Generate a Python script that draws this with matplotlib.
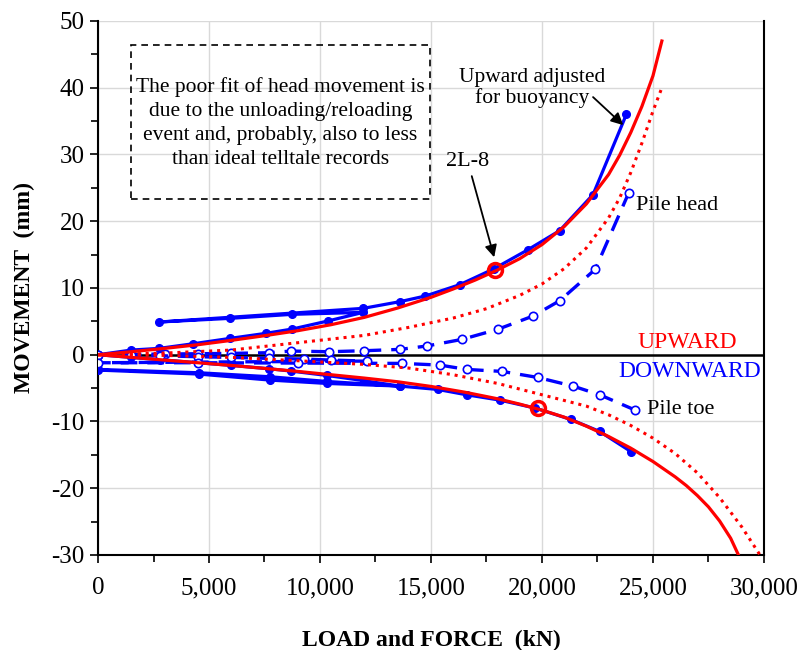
import numpy as np
import matplotlib.pyplot as plt
from matplotlib.ticker import FuncFormatter, MultipleLocator
from matplotlib.patches import Rectangle

plt.rcParams['font.family'] = ['Liberation Serif', 'DejaVu Serif']
plt.rcParams['axes.unicode_minus'] = False

# measured, pile head adjusted for buoyancy (load kN, movement mm) - includes unload/reload loop
head_adj_load = [0, 1500, 2750, 4300, 5950, 7550, 8750, 10350, 11950,
                 8750, 5950, 2750,
                 11950, 13600, 14750, 16300, 17850, 19350, 20800, 22300, 23800]
head_adj_mov = [0, 0.7, 0.95, 1.65, 2.45, 3.2, 3.85, 5.05, 6.35,
                6.05, 5.45, 4.9,
                6.95, 7.95, 8.8, 10.5, 12.9, 15.7, 18.6, 24.0, 36.0]

# measured downward (toe force) with unload/reload loop
down_load = [0, 1500, 2800, 4500, 6000, 7700, 8700, 10300, 12000, 13600,
             10300, 7750, 4550, 0,
             0, 4550, 7750, 10300, 13600, 15300, 16600, 18100, 19700, 21300, 22600, 24000]
down_mov = [0, -0.4, -0.75, -1.2, -1.6, -2.1, -2.45, -3.1, -3.9, -4.7,
            -4.0, -3.3, -2.7, -2.2,
            -2.3, -2.9, -3.8, -4.3, -4.7, -5.2, -6.0, -6.8, -8.0, -9.7, -11.5, -14.5]

# pile head (dashed, open markers)
head_load = [0, 1500, 3000, 4500, 6000, 7700, 8700, 10400, 12000, 13600,
             14800, 16400, 18000, 19600, 20800, 22400, 23900]
head_mov = [0, 0.05, 0.1, 0.15, 0.2, 0.3, 0.55, 0.45, 0.6, 0.8,
            1.3, 2.3, 3.8, 5.8, 8.1, 12.8, 24.2]

# pile toe (dashed, open markers)
toe_load = [0, 1500, 2800, 4500, 6000, 7700, 9300, 10500, 12100,
            0, 4500, 9000, 13700, 15400, 16600, 18200, 19800, 21400, 22600, 24200]
toe_mov = [0, -0.1, -0.15, -0.3, -0.4, -0.55, -0.65, -0.8, -0.95,
           -1.2, -1.2, -1.25, -1.3, -1.55, -2.2, -2.5, -3.4, -4.7, -6.0, -8.3]

# fitted curves (red solid)
fit_up_load = [0, 1500, 3000, 4500, 6000, 7500, 9000, 10500, 12000, 13500, 15000,
               16000, 17000, 18000, 19000, 20000, 21000, 22000, 23000, 23500,
               24000, 24500, 25000, 25400]
fit_up_mov = [0, 0.45, 0.95, 1.5, 2.15, 2.85, 3.6, 4.5, 5.6, 7.0, 8.6,
              9.85, 11.2, 12.7, 14.4, 16.5, 19.2, 22.6, 27.0, 29.9,
              33.3, 37.2, 41.8, 47.0]
fit_dn_load = [0, 1500, 3000, 4500, 6000, 7500, 9000, 10500, 12000, 13500, 15000,
               16500, 18000, 19000, 20000, 21000, 22000, 23000, 24000, 25000,
               26000, 26500, 27000, 27500, 28000, 28500, 28850]
fit_dn_mov = [0, -0.4, -0.8, -1.2, -1.6, -2.05, -2.5, -3.0, -3.5, -4.05, -4.75,
              -5.6, -6.6, -7.4, -8.3, -9.35, -10.7, -12.25, -14.0, -16.0,
              -18.3, -19.6, -21.1, -22.8, -24.9, -27.5, -30.0]

# fitted curves (red dotted)
dot_up_load = [0, 3000, 6000, 9000, 12000, 14000, 16000, 17500, 19000, 20000,
               21000, 22000, 23000, 23500, 24000, 24500, 25000, 25400]
dot_up_mov = [0, 0.25, 0.7, 1.8, 2.9, 4.1, 5.5, 6.9, 8.9, 10.6,
              12.9, 16.0, 20.5, 23.5, 27.3, 31.7, 36.5, 40.0]
dot_dn_load = [0, 3000, 6000, 9000, 12000, 14000, 16000, 18000, 20000, 22000,
               23000, 24000, 25000, 26000, 27000, 28000, 29000, 29820]
dot_dn_mov = [0, -0.1, -0.4, -0.9, -1.45, -2.0, -3.0, -4.3, -6.0, -7.7,
              -9.0, -10.6, -12.5, -14.8, -17.7, -21.4, -25.8, -30.0]

# 2L-8 points
pt_load = [17900, 19800]
pt_mov = [12.7, -8.0]

fig = plt.figure(figsize=(8.02, 6.5), dpi=100)
ax = fig.add_axes([0.1222, 0.1462, 0.8304, 0.8215])

blue = '#0000ff'
red = '#ff0000'

ax.plot(head_adj_load, head_adj_mov, color=blue, lw=2.3, marker='o', ms=5.5, zorder=3)
ax.plot(down_load, down_mov, color=blue, lw=2.3, marker='o', ms=5.5, zorder=3)
ax.plot(head_load, head_mov, color=blue, lw=2.4, ls=(0, (5, 3)), marker='o', ms=6,
        mfc='white', mec=blue, mew=1.2, zorder=3)
ax.plot(toe_load, toe_mov, color=blue, lw=2.4, ls=(0, (5, 3)), marker='o', ms=6,
        mfc='white', mec=blue, mew=1.2, zorder=3)

ax.plot(fit_up_load, fit_up_mov, color=red, lw=2.3, zorder=4)
ax.plot(fit_dn_load, fit_dn_mov, color=red, lw=2.3, zorder=4)
ax.plot(dot_up_load, dot_up_mov, color=red, lw=2.2, ls=(0, (1, 1.6)), zorder=4)
ax.plot(dot_dn_load, dot_dn_mov, color=red, lw=2.2, ls=(0, (1, 1.6)), zorder=4)

ax.plot(pt_load, pt_mov, ls='none', marker='o', ms=10, mfc='none', mec=red, mew=2.5, zorder=5)

ax.axhline(0, color='black', lw=1.8, zorder=2)

ax.set_xlim(0, 30000)
ax.set_ylim(-30, 50)
ax.xaxis.set_major_locator(MultipleLocator(5000))
ax.xaxis.set_minor_locator(MultipleLocator(2500))
ax.yaxis.set_major_locator(MultipleLocator(10))
ax.yaxis.set_minor_locator(MultipleLocator(5))
ax.xaxis.set_major_formatter(FuncFormatter(lambda v, p: f'{int(v):,}'))
ax.grid(True, which='major', color='#d9d9d9', lw=1, zorder=0)
ax.set_axisbelow(True)
ax.tick_params(which='both', direction='out', labelsize=18, width=1.2)
ax.tick_params(which='major', length=6)
ax.tick_params(which='minor', length=5)
ax.tick_params(axis='x', pad=10)
for s in ['left', 'bottom', 'right']:
    ax.spines[s].set_linewidth(1.5)
ax.spines['top'].set_visible(False)

ax.set_xlabel('LOAD and FORCE  (kN)', fontsize=17, fontweight='bold', labelpad=22)
ax.set_ylabel('MOVEMENT  (mm)', fontsize=17, fontweight='bold', labelpad=12)

# note box
ax.add_patch(Rectangle((0.0495, 0.667), 0.449, 0.288, transform=ax.transAxes,
                       fill=False, ec='black', lw=1.2, ls=(0, (4, 3)), zorder=5))
ax.text(0.274, 0.809, 'The poor fit of head movement is\ndue to the unloading/reloading\n'
        'event and, probably, also to less\nthan ideal telltale records',
        transform=ax.transAxes, ha='center', va='center', fontsize=15.5,
        linespacing=1.35, zorder=6)

ax.annotate('2L-8', xy=(17880, 14.2), xytext=(16650, 29), fontsize=16,
            ha='center', va='center',
            arrowprops=dict(arrowstyle='-|>', color='black', lw=1.3, mutation_scale=18))
ax.text(19550, 40, 'Upward adjusted\nfor buoyancy', fontsize=15.5, ha='center',
        va='center', linespacing=1.05)
ax.annotate('', xy=(23660, 34.4), xytext=(22300, 38.6),
            arrowprops=dict(arrowstyle='-|>', color='black', lw=1.3, mutation_scale=18,
                            shrinkA=0, shrinkB=0))
ax.text(24250, 22.4, 'Pile head', fontsize=16, ha='left', va='center')
ax.text(24750, -8.2, 'Pile toe', fontsize=16, ha='left', va='center')
ax.text(28780, 1.9, 'UPWARD', color=red, fontsize=17, ha='right', va='center')
ax.text(29850, -2.5, 'DOWNWARD', color=blue, fontsize=17, ha='right', va='center')

fig.savefig('out.png', dpi=100)
